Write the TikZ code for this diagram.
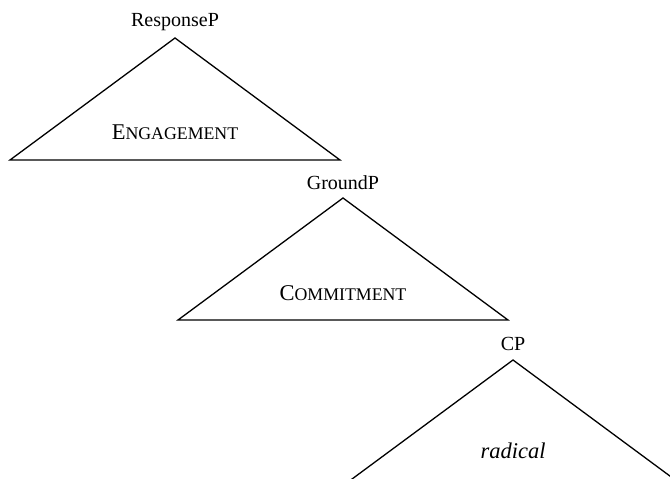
\documentclass[tikz,border=0pt]{standalone}
\usepackage{fontspec}
\setmainfont{Liberation Serif}
\newcommand{\bigsc}{\fontsize{22.5}{26}\selectfont}
\newcommand{\smallsc}{\fontsize{17.8}{21}\selectfont}
\begin{document}
\begin{tikzpicture}[x=1pt,y=-1pt,
  tri/.style={line width=1.3pt, line join=miter},
  cat/.style={anchor=base, inner sep=0pt, font=\fontsize{20}{24}\selectfont},
  content/.style={anchor=base, inner sep=0pt}]
\useasboundingbox (0,0) rectangle (670,479);
\clip (0,0) rectangle (670,479);
% ResponseP
\coordinate (a1) at (175,38);
\coordinate (l1) at (10,160);
\coordinate (r1) at (340,160);
\node[cat] (n1) at (175,27) {ResponseP};
\draw[tri] (l1) -- (a1) -- (r1) -- cycle;
\node[content] (c1) at (175,139) {{\bigsc E}{\smallsc NGAGEMENT}};
% GroundP
\coordinate (a2) at (343,198);
\coordinate (l2) at (178,320);
\coordinate (r2) at (508,320);
\node[cat] (n2) at (343,189) {GroundP};
\draw[tri] (l2) -- (a2) -- (r2) -- cycle;
\node[content] (c2) at (343,300) {{\bigsc C}{\smallsc OMMITMENT}};
% CP
\coordinate (a3) at (513,360);
\coordinate (l3) at (348,482);
\coordinate (r3) at (678,482);
\node[cat] (n3) at (513,350) {CP};
\draw[tri] (l3) -- (a3) -- (r3);
\node[content, font=\fontsize{22.5}{26}\selectfont\itshape] (c3) at (513,458) {radical};
\end{tikzpicture}
\end{document}
